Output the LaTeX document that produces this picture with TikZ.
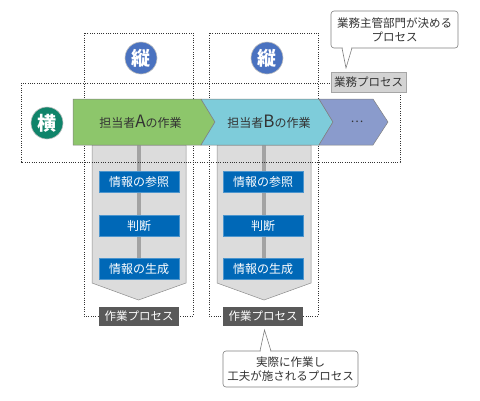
\documentclass[tikz,border=0pt]{standalone}
\usepackage{fontspec}
\setmainfont{Noto Sans CJK JP}
\definecolor{grnA}{HTML}{8DC66B}
\definecolor{cyanB}{HTML}{7ECCDA}
\definecolor{purC}{HTML}{8A9BCC}
\definecolor{tateblue}{HTML}{4A72C0}
\definecolor{yokogreen}{HTML}{10846A}
\definecolor{boxblue}{HTML}{0068B7}
\definecolor{pentgray}{HTML}{DCDCDC}
\definecolor{bargray}{HTML}{A3A3A3}
\definecolor{darklab}{HTML}{595959}
\definecolor{lightlab}{HTML}{D3D3D3}
\definecolor{txtgray}{HTML}{333333}
\tikzset{
  every node/.style={font=\fontsize{11.5}{14}\selectfont},
  dotbox/.style={draw=black!80, line width=0.7pt, dash pattern=on 1pt off 1.3pt},
  chev/.style={draw=black!50, line width=0.5pt},
  pent/.style={fill=pentgray, draw=black!45, line width=0.5pt},
  circ/.style={circle, draw=black!25, line width=0.6pt, minimum size=32pt, inner sep=0pt, text=white, font=\fontsize{19}{19}\selectfont\bfseries},
  bluebox/.style={fill=boxblue, draw=boxblue!70!white, line width=0.4pt, minimum width=80pt, minimum height=21pt, inner sep=0pt, text=white, font=\fontsize{12}{14}\selectfont},
  darkbox/.style={fill=darklab, minimum width=80pt, minimum height=19pt, inner sep=0pt, text=white},
  lightbox/.style={fill=lightlab, draw=black!35, line width=0.5pt, minimum width=75pt, minimum height=20pt, inner sep=0pt, text=txtgray},
  callout/.style={fill=white, draw=black!50, line width=0.6pt, rounded corners=3pt},
  chevtext/.style={text=txtgray, font=\fontsize{12}{14}\selectfont},
}
\newcommand{\bigL}[1]{{\fontsize{17}{17}\selectfont #1}}
\begin{document}
\begin{tikzpicture}[x=1pt,y=-1pt]
\useasboundingbox (0,0) rectangle (480,400);
% pentagons
\path[pent] (92,145) -- (186,145) -- (186,283) -- (138.5,300) -- (92,283) -- cycle;
\path[pent] (217,145) -- (311,145) -- (311,283) -- (264,300) -- (217,283) -- cycle;
\fill[bargray] (136.5,145) rectangle (140.5,262);
\fill[bargray] (262,145) rectangle (266,262);
% dotted boxes
\draw[dotbox] (84,33) rectangle (193,316);
\draw[dotbox] (209,33) rectangle (318,316);
\draw[dotbox] (21,83) rectangle (400,162);
% chevrons
\path[chev, fill=grnA] (73,99) -- (201,99) -- (215,122) -- (201,145) -- (73,145) -- cycle;
\path[chev, fill=cyanB] (201,99) -- (319,99) -- (333,122) -- (319,145) -- (201,145) -- (215,122) -- cycle;
\path[chev, fill=purC] (319,99) -- (373,99) -- (388,122) -- (373,145) -- (319,145) -- (333,122) -- cycle;
\node[chevtext] (tA) at (140.5,122) {担当者\bigL{A}の作業};
\node[chevtext] (tB) at (269,122) {担当者\bigL{B}の作業};
\node[chevtext] (tC) at (357,122) {…};
% circles
\node[circ, fill=tateblue] (tate1) at (141,58) {縦};
\node[circ, fill=tateblue] (tate2) at (267,58) {縦};
\node[circ, fill=yokogreen] (yoko) at (47,123) {横};
% blue boxes
\node[bluebox] (a1) at (139,181.5) {情報の参照};
\node[bluebox] (a2) at (139,225.5) {判断};
\node[bluebox] (a3) at (139,269) {情報の生成};
\node[bluebox] (b1) at (263,181.5) {情報の参照};
\node[bluebox] (b2) at (263,225.5) {判断};
\node[bluebox] (b3) at (263,269) {情報の生成};
% labels
\node[darkbox] (pA) at (139,316) {作業プロセス};
\node[darkbox] (pB) at (263,316) {作業プロセス};
\node[lightbox] (gyomu) at (368.5,82) {業務プロセス};
% callouts
\draw[callout] (331,11) rectangle (458,48);
\fill[white] (342.6,47) -- (346,67) -- (351.4,47) -- cycle;
\draw[black!50, line width=0.6pt] (342,48) -- (346,68) -- (352,48);
\node[text=txtgray, align=center] (c1) at (394.5,29.5) {業務主管部門が決める\\プロセス};
\draw[callout] (223,351) rectangle (358,387);
\fill[white] (260.6,352) -- (264.5,331) -- (270.4,352) -- cycle;
\draw[black!50, line width=0.6pt] (260,351) -- (264.5,330) -- (271,351);
\node[text=txtgray, align=center] (c2) at (290.5,369) {実際に作業し\\工夫が施されるプロセス};
\end{tikzpicture}
\end{document}
